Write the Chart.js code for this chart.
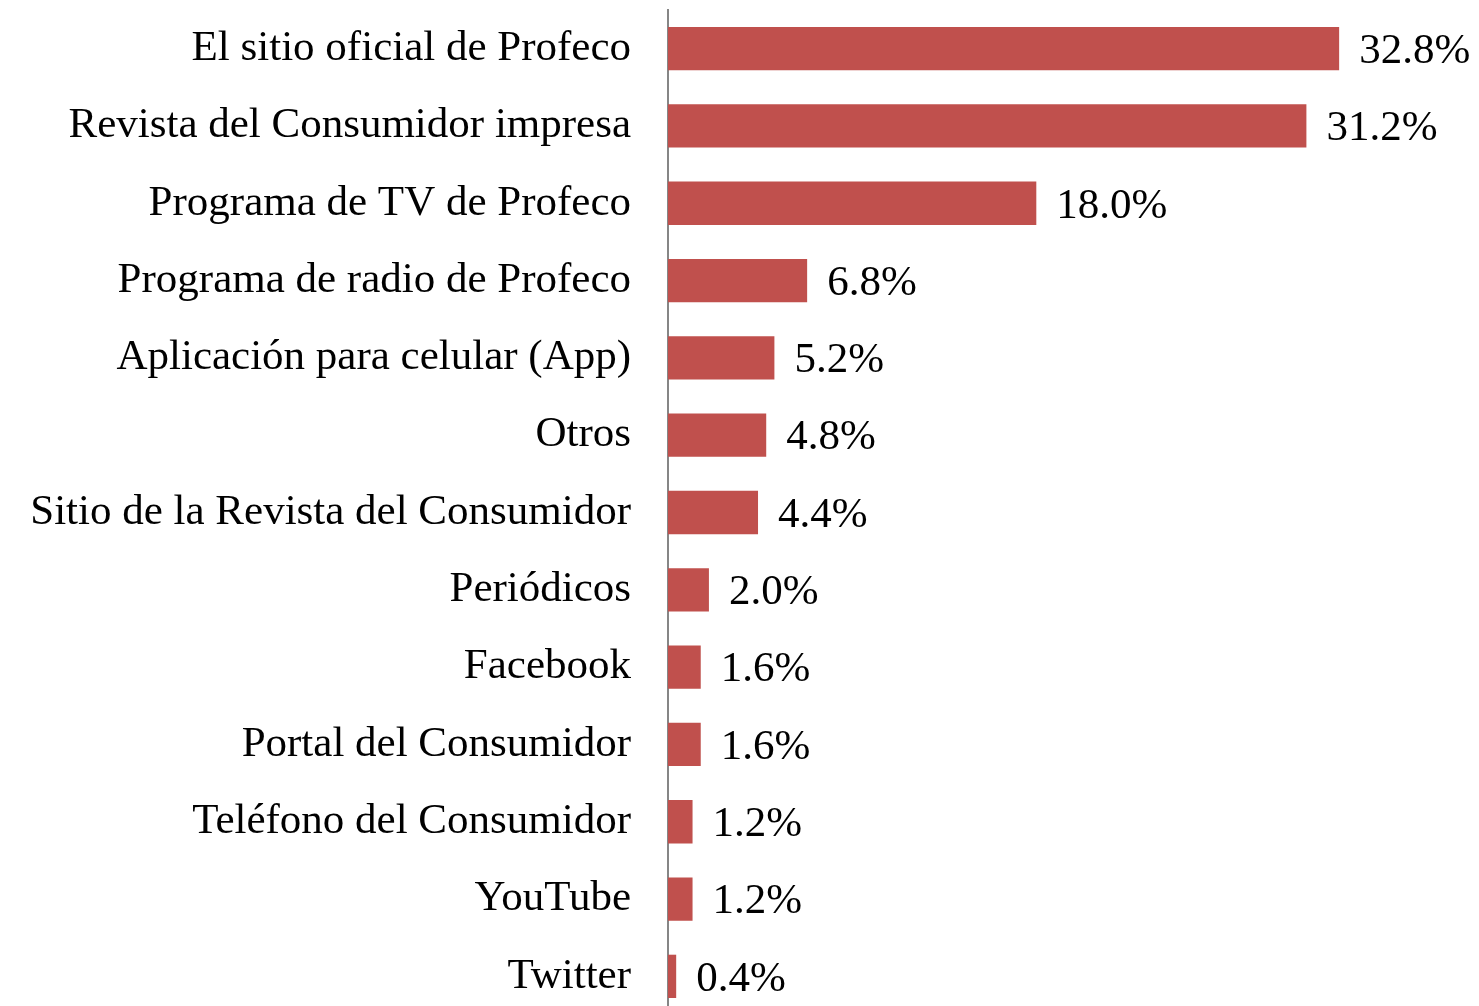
<!DOCTYPE html>
<html>
<head>
<meta charset="utf-8">
<script src="https://cdn.jsdelivr.net/npm/chart.js@4"></script>
<style>
  html, body { margin: 0; padding: 0; background: #fff; overflow: hidden; }
  canvas { display: block; }
</style>
</head>
<body>
<canvas id="chart" width="1479" height="1015"></canvas>
<script>
const categories = [
    "El sitio oficial de Profeco",
    "Revista del Consumidor impresa",
    "Programa de TV de Profeco",
    "Programa de radio de Profeco",
    "Aplicación para celular (App)",
    "Otros",
    "Sitio de la Revista del Consumidor",
    "Periódicos",
    "Facebook",
    "Portal del Consumidor",
    "Teléfono del Consumidor",
    "YouTube",
    "Twitter"
];
const percentages = [32.8, 31.2, 18.0, 6.8, 5.2, 4.8, 4.4, 2.0, 1.6, 1.6, 1.2, 1.2, 0.4];

const FONT = "'Liberation Serif', 'DejaVu Serif', serif";

// value labels to the right of each bar
const valueLabels = {
    id: 'valueLabels',
    afterDatasetsDraw(chart) {
        const ctx = chart.ctx;
        const meta = chart.getDatasetMeta(0);
        ctx.save();
        ctx.font = "43px " + FONT;
        ctx.fillStyle = "#000";
        ctx.textAlign = "left";
        ctx.textBaseline = "middle";
        meta.data.forEach((bar, i) => {
            ctx.fillText(percentages[i].toFixed(1) + "%", bar.x + 20, bar.y + 3);
        });
        ctx.restore();
    }
};

new Chart(document.getElementById("chart"), {
    type: 'bar',
    data: {
        labels: categories,
        datasets: [{
            data: percentages,
            backgroundColor: '#C0504D',
            borderWidth: 0,
            categoryPercentage: 1.0,
            barPercentage: 0.56
        }]
    },
    options: {
        indexAxis: 'y',
        responsive: false,
        animation: false,
        layout: { padding: { top: 10, right: 13, bottom: 0, left: 0 } },
        plugins: {
            legend: { display: false },
            tooltip: { enabled: false }
        },
        scales: {
            x: {
                display: false,
                min: 0,
                max: 39
            },
            y: {
                grid: { display: false, drawTicks: false },
                border: { display: true, color: '#868686', width: 2 },
                ticks: {
                    color: '#000',
                    padding: 37,
                    font: { family: FONT, size: 43 }
                },
                afterFit(scale) {
                    scale.width = 668;
                    scale.paddingTop = 0;
                    scale.paddingBottom = 0;
                }
            }
        }
    },
    plugins: [valueLabels]
});
</script>
</body>
</html>
